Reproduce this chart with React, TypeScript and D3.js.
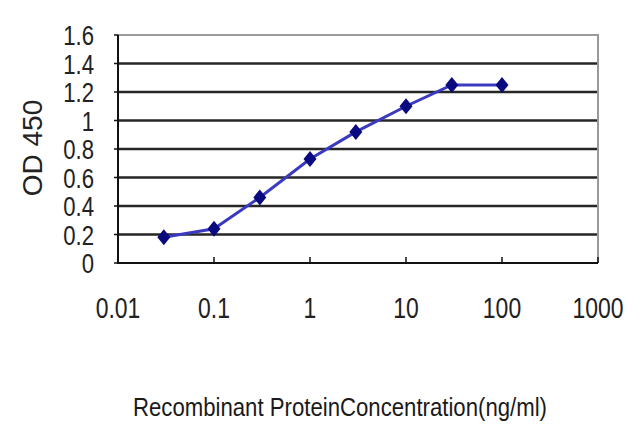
import * as d3 from "d3"
import { useEffect, useRef } from "react"

// concentrations (ng/ml) and OD 450 readings
const concentrations = [0.03, 0.1, 0.3, 1, 3, 10, 30, 100]
const odValues = [0.18, 0.24, 0.46, 0.73, 0.92, 1.1, 1.25, 1.25]
const xTicks = [0.01, 0.1, 1, 10, 100, 1000]
const xTickLabels = ["0.01", "0.1", "1", "10", "100", "1000"]
const yTicks = [0, 0.2, 0.4, 0.6, 0.8, 1, 1.2, 1.4, 1.6]
const yTickLabels = ["0", "0.2", "0.4", "0.6", "0.8", "1", "1.2", "1.4", "1.6"]

export default function App() {
  const svgRef = useRef<SVGSVGElement>(null)

  useEffect(() => {
    if (!svgRef.current) return
    const svg = d3.select(svgRef.current)
    svg.selectAll("*").remove()

    const left = 118
    const right = 598
    const top = 35
    const bottom = 263

    const x = d3.scaleLog().domain([0.01, 1000]).range([left, right])
    const y = d3.scaleLinear().domain([0, 1.6]).range([bottom, top])

    svg.append("rect").attr("width", 640).attr("height", 427).attr("fill", "#fff")

    // horizontal grid lines
    svg
      .selectAll(".grid")
      .data(yTicks.filter((d) => d > 0 && d < 1.6))
      .join("line")
      .attr("x1", left)
      .attr("x2", right)
      .attr("y1", (d) => y(d))
      .attr("y2", (d) => y(d))
      .attr("stroke", "#262626")
      .attr("stroke-width", 2.5)

    // top and right border
    svg
      .append("path")
      .attr("d", `M${left},${y(1.6)}H${right}V${bottom}`)
      .attr("fill", "none")
      .attr("stroke", "#9a9a9a")
      .attr("stroke-width", 2)

    // axes lines
    svg
      .append("path")
      .attr("d", `M${left},${top}V${bottom}H${right}`)
      .attr("fill", "none")
      .attr("stroke", "#111")
      .attr("stroke-width", 2)

    // x ticks (inside, upward)
    svg
      .selectAll(".xtick")
      .data(xTicks.slice(1))
      .join("line")
      .attr("x1", (d) => x(d))
      .attr("x2", (d) => x(d))
      .attr("y1", bottom)
      .attr("y2", bottom - 6)
      .attr("stroke", "#111")
      .attr("stroke-width", 1.5)

    // y ticks (outside, left)
    svg
      .selectAll(".ytick")
      .data(yTicks)
      .join("line")
      .attr("x1", left - 4)
      .attr("x2", left)
      .attr("y1", (d) => y(d))
      .attr("y2", (d) => y(d))
      .attr("stroke", "#111")
      .attr("stroke-width", 1.5)

    const font = "'Liberation Sans', Arial, sans-serif"

    // y tick labels
    svg
      .selectAll(".ylab")
      .data(yTicks)
      .join("text")
      .attr("transform", (d) => `translate(${left - 24},${y(d) + 10}) scale(0.82,1.05)`)
      .attr("text-anchor", "end")
      .attr("font-family", font)
      .attr("font-size", 27)
      .attr("fill", "#222")
      .text((d, i) => yTickLabels[i])

    // x tick labels
    svg
      .selectAll(".xlab")
      .data(xTicks)
      .join("text")
      .attr("transform", (d) => `translate(${x(d)},318) scale(0.82,1.05)`)
      .attr("text-anchor", "middle")
      .attr("font-family", font)
      .attr("font-size", 28)
      .attr("fill", "#222")
      .text((d, i) => xTickLabels[i])

    // y axis title
    svg
      .append("text")
      .attr("transform", `translate(42,148) rotate(-90)`)
      .attr("text-anchor", "middle")
      .attr("font-family", font)
      .attr("font-size", 28)
      .attr("fill", "#222")
      .text("OD 450")

    // x axis title
    svg
      .append("text")
      .attr("x", 133)
      .attr("y", 416)
      .attr("textLength", 414)
      .attr("lengthAdjust", "spacingAndGlyphs")
      .attr("font-family", font)
      .attr("font-size", 25)
      .attr("fill", "#1a1a1a")
      .text("Recombinant ProteinConcentration(ng/ml)")

    const points = concentrations.map((c, i) => [x(c), y(odValues[i])] as [number, number])

    svg
      .append("path")
      .attr("d", d3.line()(points))
      .attr("fill", "none")
      .attr("stroke", "#3a3ac0")
      .attr("stroke-width", 3)

    svg
      .selectAll(".marker")
      .data(points)
      .join("path")
      .attr("transform", (d) => `translate(${d[0]},${d[1]})`)
      .attr("d", "M0,-8L6.5,0L0,8L-6.5,0Z")
      .attr("fill", "#0a0a80")
  }, [])

  return (
    <svg
      ref={svgRef}
      width={640}
      height={427}
      style={{ position: "fixed", left: 0, top: 0 }}
    />
  )
}
